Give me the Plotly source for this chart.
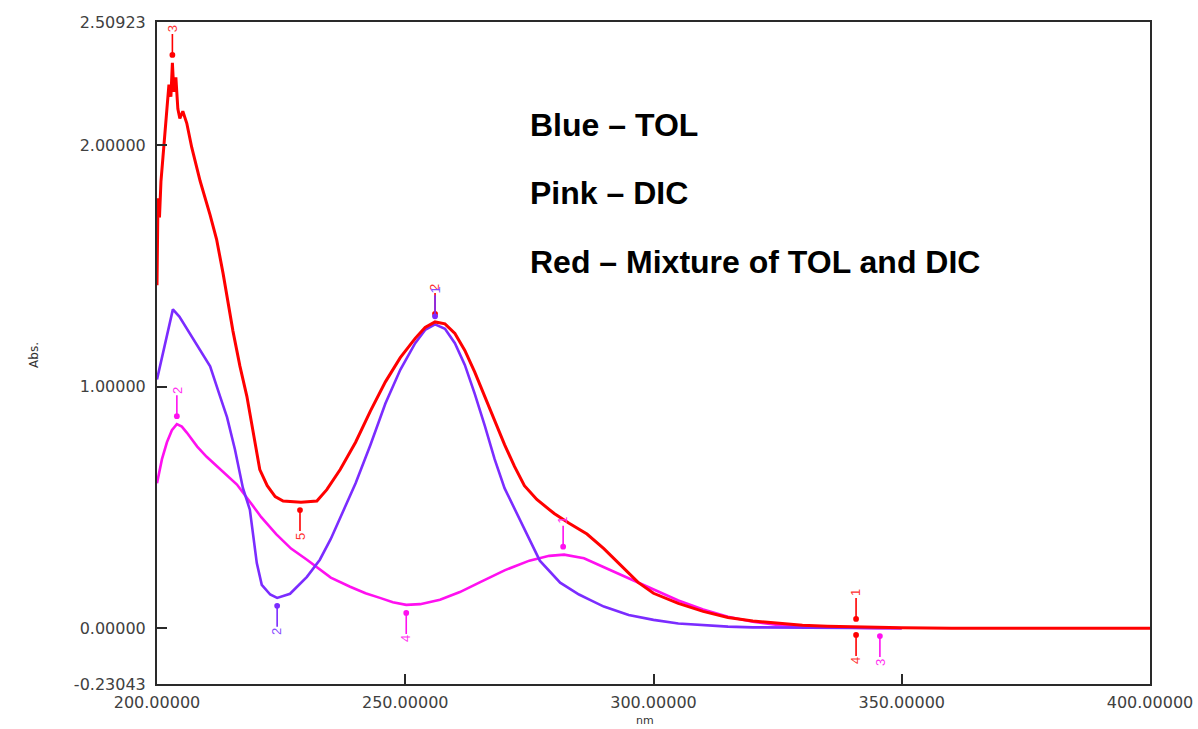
import numpy as np
import plotly.graph_objects as go

# ---------------- data ----------------
red_nm = [200.0, 200.2, 200.5, 200.8, 201.2, 201.6, 202.0, 202.4, 202.8, 203.1, 203.4, 203.8,
          204.2, 204.6, 205.2, 206.0, 207.0, 208.7, 210.7, 212.0, 213.3, 215.3, 216.7, 218.1,
          220.7, 222.2, 223.8, 225.4, 229.0, 232.2, 234.2, 236.9, 240.0, 243.0, 246.0, 249.0,
          252.0, 254.0, 256.0, 258.0, 260.0, 262.0, 264.0, 266.0, 268.0, 270.0, 272.0, 274.0,
          276.5, 280.0, 283.0, 286.6, 290.0, 293.0, 296.9, 300.0, 305.0, 310.0, 315.0, 320.0,
          325.0, 330.0, 335.0, 340.0, 345.0, 350.0, 360.0, 380.0, 400.0]
red_abs = [1.42, 1.78, 1.70, 1.85, 1.95, 2.05, 2.18, 2.25, 2.20, 2.34, 2.22, 2.28,
           2.15, 2.11, 2.14, 2.09, 1.99, 1.85, 1.71, 1.61, 1.47, 1.23, 1.085, 0.96,
           0.657, 0.59, 0.545, 0.527, 0.522, 0.527, 0.574, 0.657, 0.77, 0.90, 1.02, 1.12,
           1.20, 1.245, 1.268, 1.26, 1.22, 1.15, 1.06, 0.96, 0.86, 0.76, 0.67, 0.59,
           0.533, 0.475, 0.435, 0.39, 0.33, 0.27, 0.19, 0.145, 0.103, 0.07, 0.045, 0.03,
           0.02, 0.013, 0.009, 0.006, 0.004, 0.002, 0.0, 0.0, 0.0]

blue_nm = [200.0, 201.5, 203.2, 204.5, 206.6, 208.7, 210.7, 212.7, 214.1, 215.7, 217.3, 218.7,
           220.1, 221.1, 222.8, 224.2, 226.8, 230.2, 232.8, 235.0, 237.0, 240.0, 243.0, 246.0,
           249.0, 252.0, 254.0, 256.0, 258.0, 260.0, 262.0, 264.0, 266.0, 268.0, 270.0, 273.1,
           277.1, 281.2, 285.0, 287.2, 290.0, 295.0, 300.0, 305.0, 310.0, 315.0, 320.0, 330.0,
           340.0, 350.0]
blue_abs = [1.03, 1.17, 1.32, 1.29, 1.22, 1.15, 1.084, 0.96, 0.874, 0.74, 0.581, 0.491,
            0.27, 0.18, 0.14, 0.126, 0.143, 0.213, 0.284, 0.37, 0.46, 0.60, 0.76, 0.93,
            1.07, 1.18, 1.235, 1.258, 1.24, 1.18, 1.09, 0.97, 0.84, 0.70, 0.58, 0.45,
            0.28, 0.189, 0.14, 0.118, 0.09, 0.055, 0.035, 0.02, 0.012, 0.007, 0.004, 0.002,
            0.001, 0.0]

pink_nm = [200.0, 201.0, 202.0, 203.0, 204.0, 205.0, 206.0, 208.1, 210.0, 212.1, 214.0, 216.1,
           218.7, 221.0, 224.0, 227.0, 230.2, 232.8, 235.0, 238.9, 242.0, 244.9, 247.5, 250.2,
           253.0, 257.0, 261.0, 265.0, 270.0, 275.0, 279.0, 282.0, 286.0, 289.8, 293.0, 296.9,
           300.0, 305.0, 310.0, 315.0, 320.0, 325.0, 330.0, 335.0, 340.0, 345.0, 350.0]
pink_abs = [0.60, 0.70, 0.77, 0.82, 0.845, 0.835, 0.81, 0.752, 0.71, 0.669, 0.635, 0.595,
            0.524, 0.46, 0.39, 0.33, 0.284, 0.242, 0.21, 0.172, 0.145, 0.126, 0.108, 0.097,
            0.100, 0.118, 0.15, 0.19, 0.24, 0.28, 0.30, 0.305, 0.29, 0.255, 0.225, 0.189,
            0.16, 0.115, 0.078, 0.048, 0.027, 0.014, 0.007, 0.004, 0.002, 0.001, 0.0]

# peak-pick labels: wavelength, label, +1 = above (peak) / -1 = below (valley)
red_pick_nm = [203.1, 256.0, 228.8, 340.8, 340.8]
red_pick_lbl = ["3", "2", "5", "1", "4"]
red_pick_dir = [1, 1, -1, 1, -1]

blue_pick_nm = [256.0, 224.2]
blue_pick_lbl = ["1", "2"]
blue_pick_dir = [1, -1]

pink_pick_nm = [204.0, 281.8, 250.2, 345.6]
pink_pick_lbl = ["2", "1", "4", "3"]
pink_pick_dir = [1, 1, -1, -1]

x_tickvals = [200, 250, 300, 350, 400]
x_ticktext = ["200.00000", "250.00000", "300.00000", "350.00000", "400.00000"]
y_tickvals = [-0.23043, 0.0, 1.0, 2.0, 2.50923]
y_ticktext = ["-0.23043", "0.00000", "1.00000", "2.00000", "2.50923"]

legend_lines = ["Blue – TOL", "Pink – DIC", "Red – Mixture of TOL and DIC"]

# ---------------- styling ----------------
RED = "#ff0000"
BLUE = "#7b2cff"
PINK = "#ff10f0"
AXIS = "#2a2a2a"
FONT = "Liberation Sans"
TICKFONT = "DejaVu Sans"

fig = go.Figure()
fig.add_trace(go.Scatter(x=pink_nm, y=pink_abs, mode="lines",
                         line=dict(color=PINK, width=2.6), hoverinfo="skip"))
fig.add_trace(go.Scatter(x=blue_nm, y=blue_abs, mode="lines",
                         line=dict(color=BLUE, width=2.6), hoverinfo="skip"))
fig.add_trace(go.Scatter(x=red_nm, y=red_abs, mode="lines",
                         line=dict(color=RED, width=3), hoverinfo="skip"))

annotations = []


def add_picks(nm_list, lbls, dirs, xs, ys, color, textcolor):
    for x, lab, d in zip(nm_list, lbls, dirs):
        y = float(np.interp(x, xs, ys))
        annotations.append(dict(
            x=x, y=y, xref="x", yref="y", text=lab, showarrow=True,
            ax=0, ay=-34 * d, arrowhead=6, arrowsize=0.9, arrowwidth=1.6,
            arrowcolor=color, standoff=8, textangle=-90,
            font=dict(family=FONT, size=13, color=textcolor)))


add_picks(red_pick_nm, red_pick_lbl, red_pick_dir, red_nm, red_abs, RED, "#ff3030")
add_picks(blue_pick_nm, blue_pick_lbl, blue_pick_dir, blue_nm, blue_abs, BLUE, "#8a4dff")
add_picks(pink_pick_nm, pink_pick_lbl, pink_pick_dir, pink_nm, pink_abs, PINK, "#ff30f0")

for i, t in enumerate(legend_lines):
    annotations.append(dict(
        x=0.3735, y=0.845 - i * 0.104, xref="paper", yref="paper", text="<b>" + t + "</b>",
        showarrow=False, xanchor="left", yanchor="middle",
        font=dict(family=FONT, size=32, color="#000000")))

annotations.append(dict(x=-0.133, y=0.497, xref="paper", yref="paper", text="Abs.",
                        showarrow=False, textangle=-90,
                        font=dict(family=TICKFONT, size=12, color="#333333")))
annotations.append(dict(x=0.491, y=-0.0665, xref="paper", yref="paper", text="nm",
                        showarrow=False, yanchor="bottom", borderpad=0,
                        font=dict(family=TICKFONT, size=11, color="#333333")))

fig.update_layout(
    width=1198, height=729,
    margin=dict(l=157, r=48, t=22, b=45),
    paper_bgcolor="white", plot_bgcolor="white",
    showlegend=False,
    annotations=annotations,
    xaxis=dict(range=[200, 400], tickmode="array", tickvals=x_tickvals, ticktext=x_ticktext,
               showline=True, mirror=True, linecolor=AXIS, linewidth=2,
               ticks="inside", ticklen=10, tickwidth=2, tickcolor=AXIS,
               showgrid=False, zeroline=False, automargin=False,
               ticklabelstandoff=3,
               tickfont=dict(family=TICKFONT, size=16, color="#404040")),
    yaxis=dict(range=[-0.23043, 2.50923], tickmode="array", tickvals=y_tickvals,
               ticktext=y_ticktext,
               showline=True, mirror=True, linecolor=AXIS, linewidth=2,
               ticks="inside", ticklen=10, tickwidth=2, tickcolor=AXIS,
               showgrid=False, zeroline=False, automargin=False,
               ticklabelstandoff=6,
               tickfont=dict(family=TICKFONT, size=16, color="#404040")),
)

fig.write_html("out.html")
